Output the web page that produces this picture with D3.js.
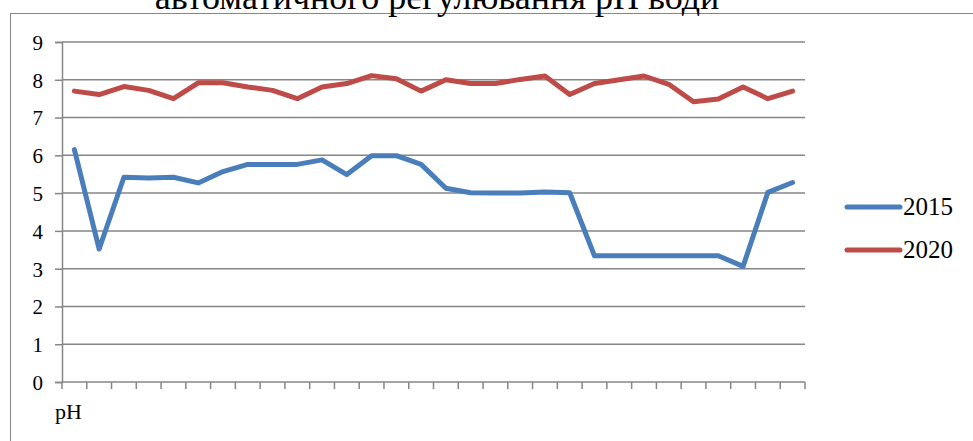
<!DOCTYPE html>
<html><head><meta charset="utf-8">
<script src="https://cdn.jsdelivr.net/npm/d3@7"></script>
<style>body{margin:0;background:#fff}svg{display:block}</style>
</head><body><svg id="c" width="973" height="441"></svg>
<script>
(function(){
const title = "автоматичного регулювання pH води";
const categoryLabel = "pH";
const seriesNames = ["2015", "2020"];
const values2015 = [6.15,3.52,5.42,5.40,5.42,5.27,5.57,5.76,5.76,5.76,5.88,5.49,5.99,5.99,5.76,5.13,5.01,5.00,5.00,5.03,5.01,3.34,3.34,3.34,3.34,3.34,3.34,3.06,5.02,5.28];
const values2020 = [7.70,7.61,7.82,7.72,7.50,7.92,7.92,7.81,7.72,7.50,7.81,7.90,8.11,8.03,7.70,8.00,7.90,7.90,8.01,8.10,7.61,7.90,8.00,8.10,7.88,7.42,7.49,7.81,7.50,7.70];
const yTicks = [0,1,2,3,4,5,6,7,8,9];
const colors = ["#4A7EBB", "#BE4B48"];
const FONT = "'Liberation Serif', 'Times New Roman', Tinos, 'DejaVu Serif', serif";

const svg = d3.select("#c");
svg.append("rect").attr("x",10.5).attr("y",13.5).attr("width",1000).attr("height",500)
  .attr("fill","none").attr("stroke","#868686").attr("stroke-width",1);

const t = svg.append("text").attr("x",437).attr("y",9).attr("text-anchor","middle")
  .style("font-family",FONT).attr("font-size",30).attr("fill","#000").text(title);
const w = t.node().getComputedTextLength();
if (w > 0) t.attr("font-size", 30*565/w);

const pL=62, pR=805, pT=42, pB=382;
const idx = d3.range(values2015.length);
const x = d3.scaleBand().domain(idx).range([pL,pR]);
const y = d3.scaleLinear().domain([0,9]).range([pB,pT]);

svg.append("g").selectAll("line").data(yTicks.filter(d=>d>0)).join("line")
  .attr("x1",pL).attr("x2",pR).attr("y1",d=>y(d)).attr("y2",d=>y(d))
  .attr("stroke","#868686").attr("stroke-width",1.5);

const ya = svg.append("g").attr("transform",`translate(${pL},0)`)
  .call(d3.axisLeft(y).tickValues(yTicks).tickSize(7).tickPadding(12));
ya.attr("font-family",null).attr("font-size",null);
ya.select(".domain").attr("stroke","#868686").attr("stroke-width",1.5);
ya.selectAll(".tick line").attr("stroke","#868686").attr("stroke-width",1.5);
ya.selectAll("text").style("font-size","21px").style("font-family",FONT).attr("fill","#000").attr("dy","0.35em");

const xa = svg.append("g").attr("transform",`translate(0,${pB})`);
xa.append("line").attr("x1",pL).attr("x2",pR).attr("stroke","#868686").attr("stroke-width",1.5);
const tickPos = idx.map(i=>x(i)).concat([x(idx[idx.length-1])+x.bandwidth()]);
xa.selectAll("line.t").data(tickPos).join("line").attr("class","t")
  .attr("x1",d=>d).attr("x2",d=>d).attr("y1",0).attr("y2",7)
  .attr("stroke","#868686").attr("stroke-width",1.5);
svg.append("text").attr("x",55).attr("y",419).style("font-family",FONT).style("font-size","22px").attr("fill","#000").text(categoryLabel);

const line = d3.line().x((d,i)=>x(i)+x.bandwidth()/2).y(d=>y(d));
[values2015, values2020].forEach((vals,k)=>{
  svg.append("path").datum(vals).attr("d",line).attr("fill","none")
    .attr("stroke",colors[k]).attr("stroke-width",5).attr("stroke-linejoin","round").attr("stroke-linecap","round");
});

seriesNames.forEach((n,k)=>{
  const ly = 207 + k*43;
  svg.append("line").attr("x1",847).attr("x2",900).attr("y1",ly).attr("y2",ly)
    .attr("stroke",colors[k]).attr("stroke-width",5).attr("stroke-linecap","round");
  svg.append("text").attr("x",903).attr("y",ly+8).style("font-family",FONT).style("font-size","25px").attr("fill","#000").text(n);
});
})();
</script></body></html>
